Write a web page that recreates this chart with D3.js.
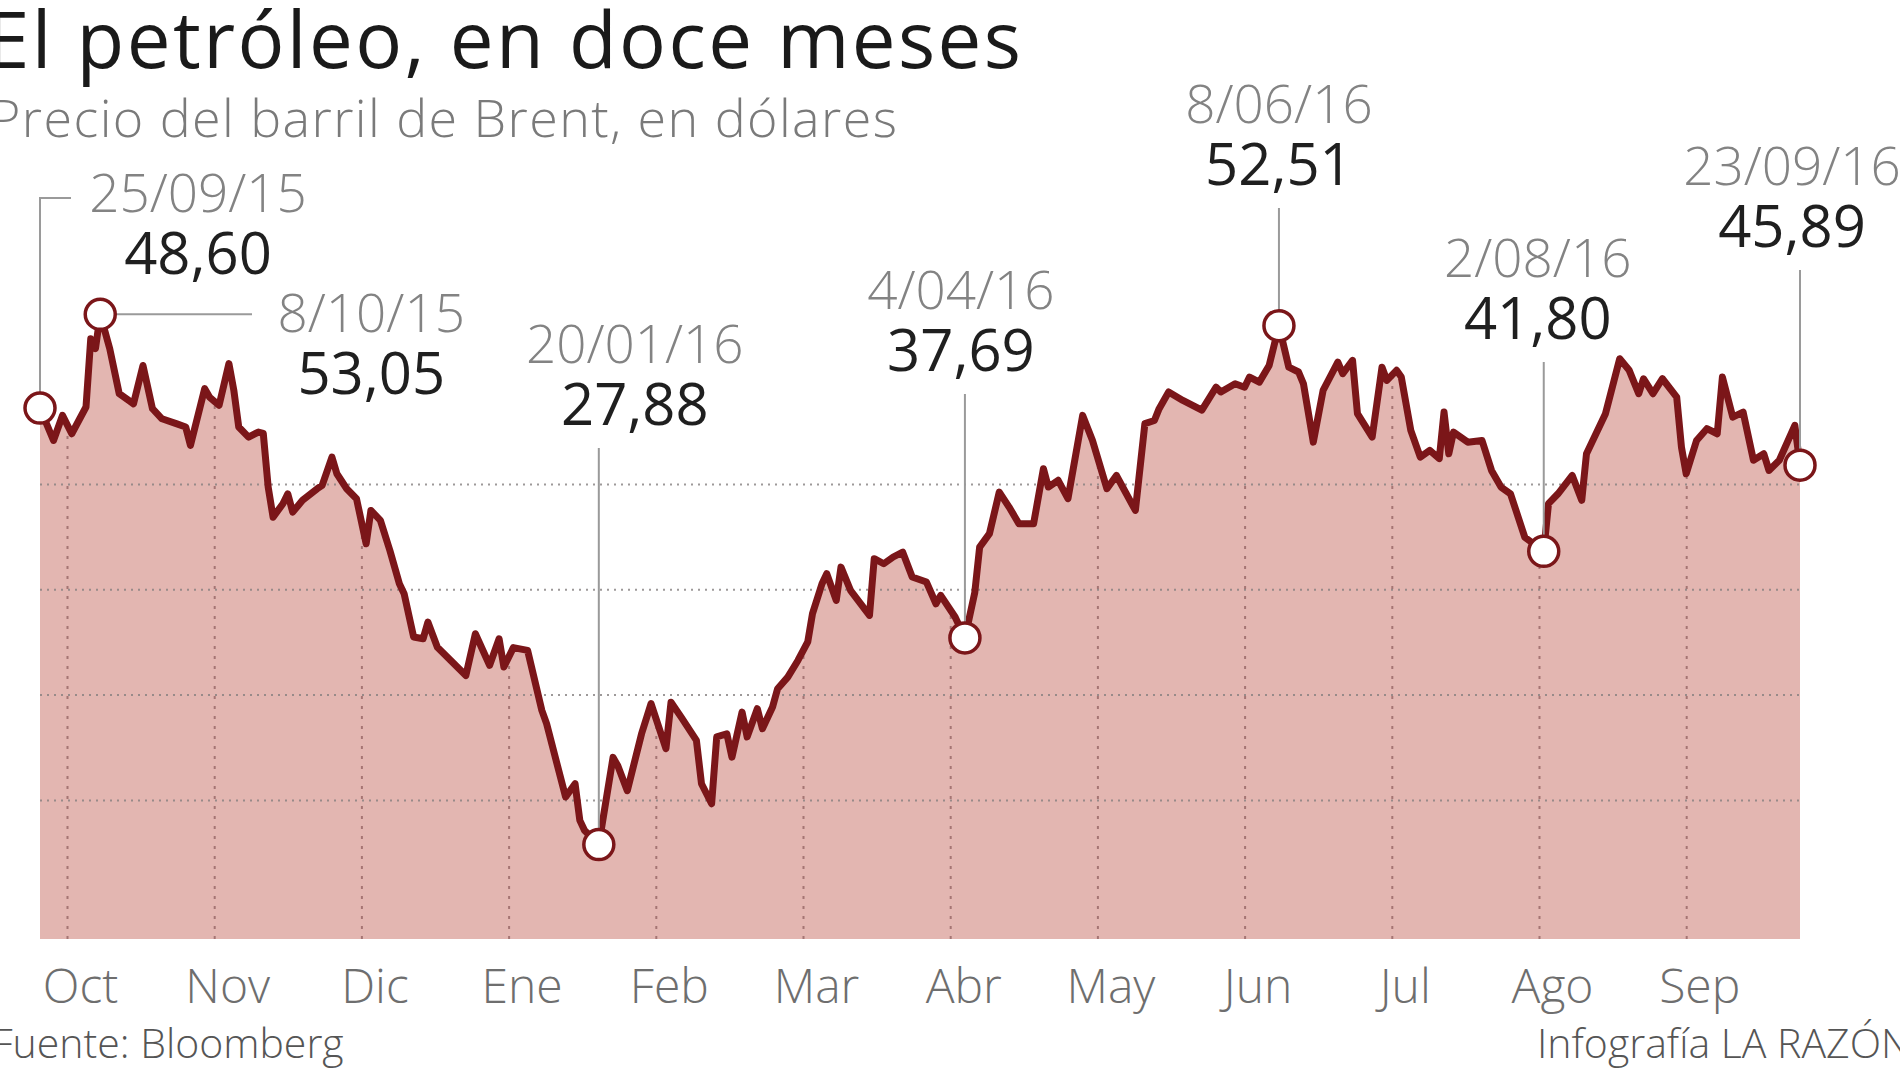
<!DOCTYPE html>
<html><head><meta charset="utf-8">
<script src="https://cdn.jsdelivr.net/npm/d3@7"></script>
<style>
html,body{margin:0;padding:0;background:#fff;overflow:hidden}
svg{display:block}
text{font-family:"Open Sans","Noto Sans",sans-serif}
</style></head><body>
<svg id="chart" width="1900" height="1069"></svg>
<script>
// ---------------- DATA ----------------
const dates = [
"2015-09-25","2015-09-28","2015-09-30","2015-10-02","2015-10-05","2015-10-06","2015-10-07","2015-10-08","2015-10-10","2015-10-12",
"2015-10-14","2015-10-15","2015-10-17","2015-10-19","2015-10-21","2015-10-24","2015-10-26","2015-10-27","2015-10-30","2015-10-31",
"2015-11-02","2015-11-04","2015-11-05","2015-11-06","2015-11-08","2015-11-10","2015-11-11","2015-11-12","2015-11-13","2015-11-15",
"2015-11-16","2015-11-17","2015-11-19","2015-11-22","2015-11-23","2015-11-25","2015-11-26","2015-11-28","2015-11-29","2015-11-30",
"2015-12-02","2015-12-03","2015-12-05","2015-12-07","2015-12-09","2015-12-10","2015-12-12","2015-12-14","2015-12-15","2015-12-17",
"2015-12-23","2015-12-25","2015-12-28","2015-12-30","2015-12-31","2016-01-02","2016-01-05","2016-01-08","2016-01-09","2016-01-13",
"2016-01-15","2016-01-16","2016-01-17","2016-01-20","2016-01-23","2016-01-24","2016-01-26","2016-01-29","2016-01-31","2016-02-03",
"2016-02-04","2016-02-06","2016-02-09","2016-02-10","2016-02-12","2016-02-13","2016-02-15","2016-02-16","2016-02-18","2016-02-19",
"2016-02-21","2016-02-22","2016-02-24","2016-02-25","2016-02-27","2016-02-29","2016-03-02","2016-03-03","2016-03-05","2016-03-06",
"2016-03-08","2016-03-09","2016-03-11","2016-03-15","2016-03-16","2016-03-18","2016-03-20","2016-03-22","2016-03-24","2016-03-27",
"2016-03-29","2016-03-30","2016-04-02","2016-04-04","2016-04-06","2016-04-07","2016-04-09","2016-04-11","2016-04-13","2016-04-15",
"2016-04-18","2016-04-20","2016-04-21","2016-04-23","2016-04-25","2016-04-28","2016-04-30","2016-05-03","2016-05-05","2016-05-09",
"2016-05-11","2016-05-13","2016-05-14","2016-05-16","2016-05-19","2016-05-23","2016-05-26","2016-05-27","2016-05-30","2016-06-01",
"2016-06-02","2016-06-04","2016-06-06","2016-06-08","2016-06-10","2016-06-12","2016-06-13","2016-06-15","2016-06-17","2016-06-20",
"2016-06-21","2016-06-23","2016-06-24","2016-06-27","2016-06-29","2016-06-30","2016-07-02","2016-07-03","2016-07-05","2016-07-07",
"2016-07-09","2016-07-11","2016-07-12","2016-07-13","2016-07-14","2016-07-17","2016-07-20","2016-07-22","2016-07-24","2016-07-26",
"2016-07-29","2016-08-02","2016-08-03","2016-08-05","2016-08-08","2016-08-10","2016-08-11","2016-08-13","2016-08-15","2016-08-18",
"2016-08-20","2016-08-22","2016-08-23","2016-08-25","2016-08-27","2016-08-30","2016-08-31","2016-09-01","2016-09-03","2016-09-05",
"2016-09-07","2016-09-08","2016-09-10","2016-09-12","2016-09-14","2016-09-16","2016-09-17","2016-09-19","2016-09-22","2016-09-23"
];
const prices = [
48.60,47.06,48.25,47.38,48.65,51.89,51.42,53.05,51.42,49.28,
48.96,48.80,50.62,48.57,48.09,47.86,47.70,46.83,49.52,49.12,
48.73,50.71,49.44,47.70,47.22,47.46,47.40,44.85,43.42,44.06,
44.53,43.66,44.22,44.77,44.93,46.27,45.48,44.77,44.53,44.30,
42.16,43.74,43.27,41.84,40.26,39.79,37.73,37.65,38.44,37.25,
35.91,37.89,36.39,37.65,36.31,37.23,37.10,34.25,33.62,30.14,
30.77,29.03,28.55,27.88,32.02,31.62,30.44,33.14,34.57,32.43,
34.64,33.93,32.83,30.77,29.82,32.99,33.14,32.03,34.17,32.99,
34.33,33.38,34.41,35.28,35.83,36.62,37.50,38.84,40.26,40.74,
39.47,41.05,39.95,38.76,41.45,41.21,41.53,41.76,40.58,40.34,
39.31,39.71,38.68,37.69,39.83,42.00,42.64,44.61,43.90,43.11,
43.11,45.72,44.85,45.17,44.30,48.25,47.06,44.77,45.40,43.74,
47.86,48.01,48.57,49.36,48.96,48.50,49.59,49.36,49.75,49.59,
50.07,49.83,50.62,52.51,50.54,50.31,49.75,46.98,49.44,50.78,
50.23,50.86,48.33,47.22,50.54,49.91,50.39,50.07,47.54,46.27,
46.59,46.20,48.41,46.43,47.46,46.98,47.06,45.64,44.85,44.53,
42.47,41.80,44.06,44.53,45.40,44.22,46.43,47.38,48.33,50.94,
50.39,49.28,49.99,49.28,49.99,49.12,46.75,45.48,47.06,47.62,
47.38,50.07,48.17,48.41,46.12,46.43,45.64,46.12,47.78,45.89
];
const monthLabels = ["Oct","Nov","Dic","Ene","Feb","Mar","Abr","May","Jun","Jul","Ago","Sep"];
const monthStarts = ["2015-10-01","2015-11-01","2015-12-01","2016-01-01","2016-02-01","2016-03-01",
                     "2016-04-01","2016-05-01","2016-06-01","2016-07-01","2016-08-01","2016-09-01"];
const gridValues = [30, 35, 40, 45];
const annotDates = ["2015-09-25","2015-10-08","2016-01-20","2016-04-04","2016-06-08","2016-08-02","2016-09-23"];
const annotDateLabels = ["25/09/15","8/10/15","20/01/16","4/04/16","8/06/16","2/08/16","23/09/16"];
const annotValues = [48.60, 53.05, 27.88, 37.69, 52.51, 41.80, 45.89];
const titleText = "El petróleo, en doce meses";
const subtitleText = "Precio del barril de Brent, en dólares";
const sourceText = "Fuente: Bloomberg";
const creditText = "Infografía LA RAZÓN";

// ---------------- LAYOUT ----------------
const plotLeft = 40, plotRight = 1800, plotBottom = 939;
const firstMonthX = 67, monthStep = 147.2;
const pxPerDollar = 21.07, bottomValue = 23.4;
const lineColor = "#7b1619", fillColor = "#e3b6b1";
// label layout per annotation: dx = label centre offset from point, labelY = date baseline
const annotLayout = [
  {dx: 158, labelY: 212, leader: "elbow", elbowY: 198, elbowX: 71},
  {dx: 271, labelY: 332, leader: "side", sideX: 252},
  {dx: 36,  labelY: 363, leader: "up"},
  {dx: -4,  labelY: 309, leader: "up"},
  {dx: 0,   labelY: 123, leader: "up"},
  {dx: -6,  labelY: 277, leader: "up"},
  {dx: -8,  labelY: 185, leader: "up"}
];
const valueGap = 62, leaderGap = 23, circleR = 15;

// ---------------- BUILD ----------------
const parse = d3.timeParse("%Y-%m-%d");
const data = dates.map((d, i) => ({date: parse(d), value: prices[i]}));
const mStarts = monthStarts.map(parse);
const x = d3.scaleTime()
  .domain([data[0].date, ...mStarts, data[data.length - 1].date])
  .range([plotLeft, ...mStarts.map((d, i) => firstMonthX + i * monthStep), plotRight]);
const y = d3.scaleLinear()
  .domain([bottomValue, 55])
  .range([plotBottom, plotBottom - (55 - bottomValue) * pxPerDollar]);

const svg = d3.select("#chart");
const fmt = v => d3.format(".2f")(v).replace(".", ",");

const area = d3.area().x(d => x(d.date)).y0(plotBottom).y1(d => y(d.value));
const line = d3.line().x(d => x(d.date)).y(d => y(d.value));

svg.append("defs").append("clipPath").attr("id", "areaClip")
  .append("path").attr("d", area(data));

// fill
svg.append("path").attr("d", area(data)).attr("fill", fillColor);

// vertical grid (inside fill only)
const vGrid = svg.append("g").attr("clip-path", "url(#areaClip)")
  .append("g").attr("transform", `translate(0,${plotBottom})`)
  .call(d3.axisBottom(x).tickValues(mStarts).tickSize(-(plotBottom - 250)).tickFormat(""));
vGrid.select(".domain").remove();
vGrid.selectAll("line").attr("stroke", "#8a5a5a").attr("stroke-width", 2)
  .attr("stroke-dasharray", "3,7").attr("opacity", 0.7);

// horizontal grid
const hGrid = svg.append("g").attr("transform", `translate(${plotLeft},0)`)
  .call(d3.axisLeft(y).tickValues(gridValues).tickSize(-(plotRight - plotLeft)).tickFormat(""));
hGrid.select(".domain").remove();
hGrid.selectAll("line").attr("stroke", "#858080").attr("stroke-width", 2)
  .attr("stroke-dasharray", "2,5").attr("opacity", 0.8);

// month labels
const xAxis = svg.append("g").attr("transform", `translate(0,${plotBottom})`)
  .call(d3.axisBottom(x).tickValues(mStarts).tickSize(0).tickFormat((d, i) => monthLabels[i]));
xAxis.select(".domain").remove();
xAxis.selectAll("text")
  .attr("y", 64).attr("dy", 0).attr("dx", 13)
  .attr("font-size", 48).attr("font-family", '"Open Sans","Noto Sans",sans-serif')
  .attr("fill", "#6e6e6e").attr("font-weight", 300);

// line
svg.append("path").attr("d", line(data)).attr("fill", "none")
  .attr("stroke", lineColor).attr("stroke-width", 7)
  .attr("stroke-linejoin", "round").attr("stroke-linecap", "round");

// annotations
const annots = annotDates.map((d, i) => ({
  date: parse(d), value: annotValues[i], dateLabel: annotDateLabels[i], layout: annotLayout[i]
}));
const ag = svg.append("g");
annots.forEach(a => {
  const px = x(a.date), py = y(a.value), L = a.layout;
  const lx = px + L.dx;
  let pts;
  if (L.leader === "elbow") pts = [[px, py - circleR], [px, L.elbowY], [L.elbowX, L.elbowY]];
  else if (L.leader === "side") pts = [[px + circleR, py], [L.sideX, py]];
  else pts = [[px, L.labelY + valueGap + leaderGap], [px, py - circleR]];
  ag.append("path").attr("d", d3.line()(pts)).attr("fill", "none")
    .attr("stroke", "#9a9a9a").attr("stroke-width", 2);
  ag.append("text").attr("x", lx).attr("y", L.labelY).attr("text-anchor", "middle")
    .attr("font-size", 53).attr("font-weight", 300).attr("fill", "#838383").text(a.dateLabel);
  ag.append("text").attr("x", lx).attr("y", L.labelY + valueGap).attr("text-anchor", "middle")
    .attr("font-size", 58).attr("font-weight", 400).attr("fill", "#1f1f1f").text(fmt(a.value));
});
svg.append("g").selectAll("circle").data(annots).join("circle")
  .attr("cx", d => x(d.date)).attr("cy", d => y(d.value)).attr("r", circleR)
  .attr("fill", "#fff").attr("stroke", lineColor).attr("stroke-width", 3.5);

// titles
svg.append("text").attr("x", -14).attr("y", 68).attr("font-size", 78).attr("fill", "#1a1a1a")
  .attr("textLength", 1035).attr("lengthAdjust", "spacing").text(titleText);
svg.append("text").attr("x", -10).attr("y", 137).attr("font-size", 52).attr("font-weight", 300)
  .attr("fill", "#7a7a7a").attr("textLength", 907).attr("lengthAdjust", "spacing").text(subtitleText);

// footer
svg.append("text").attr("x", -8).attr("y", 1058).attr("font-size", 41).attr("font-weight", 300)
  .attr("fill", "#555").text(sourceText);
svg.append("text").attr("x", 1537).attr("y", 1058).attr("font-size", 41).attr("font-weight", 300)
  .attr("fill", "#555").text(creditText);
</script>
</body></html>
